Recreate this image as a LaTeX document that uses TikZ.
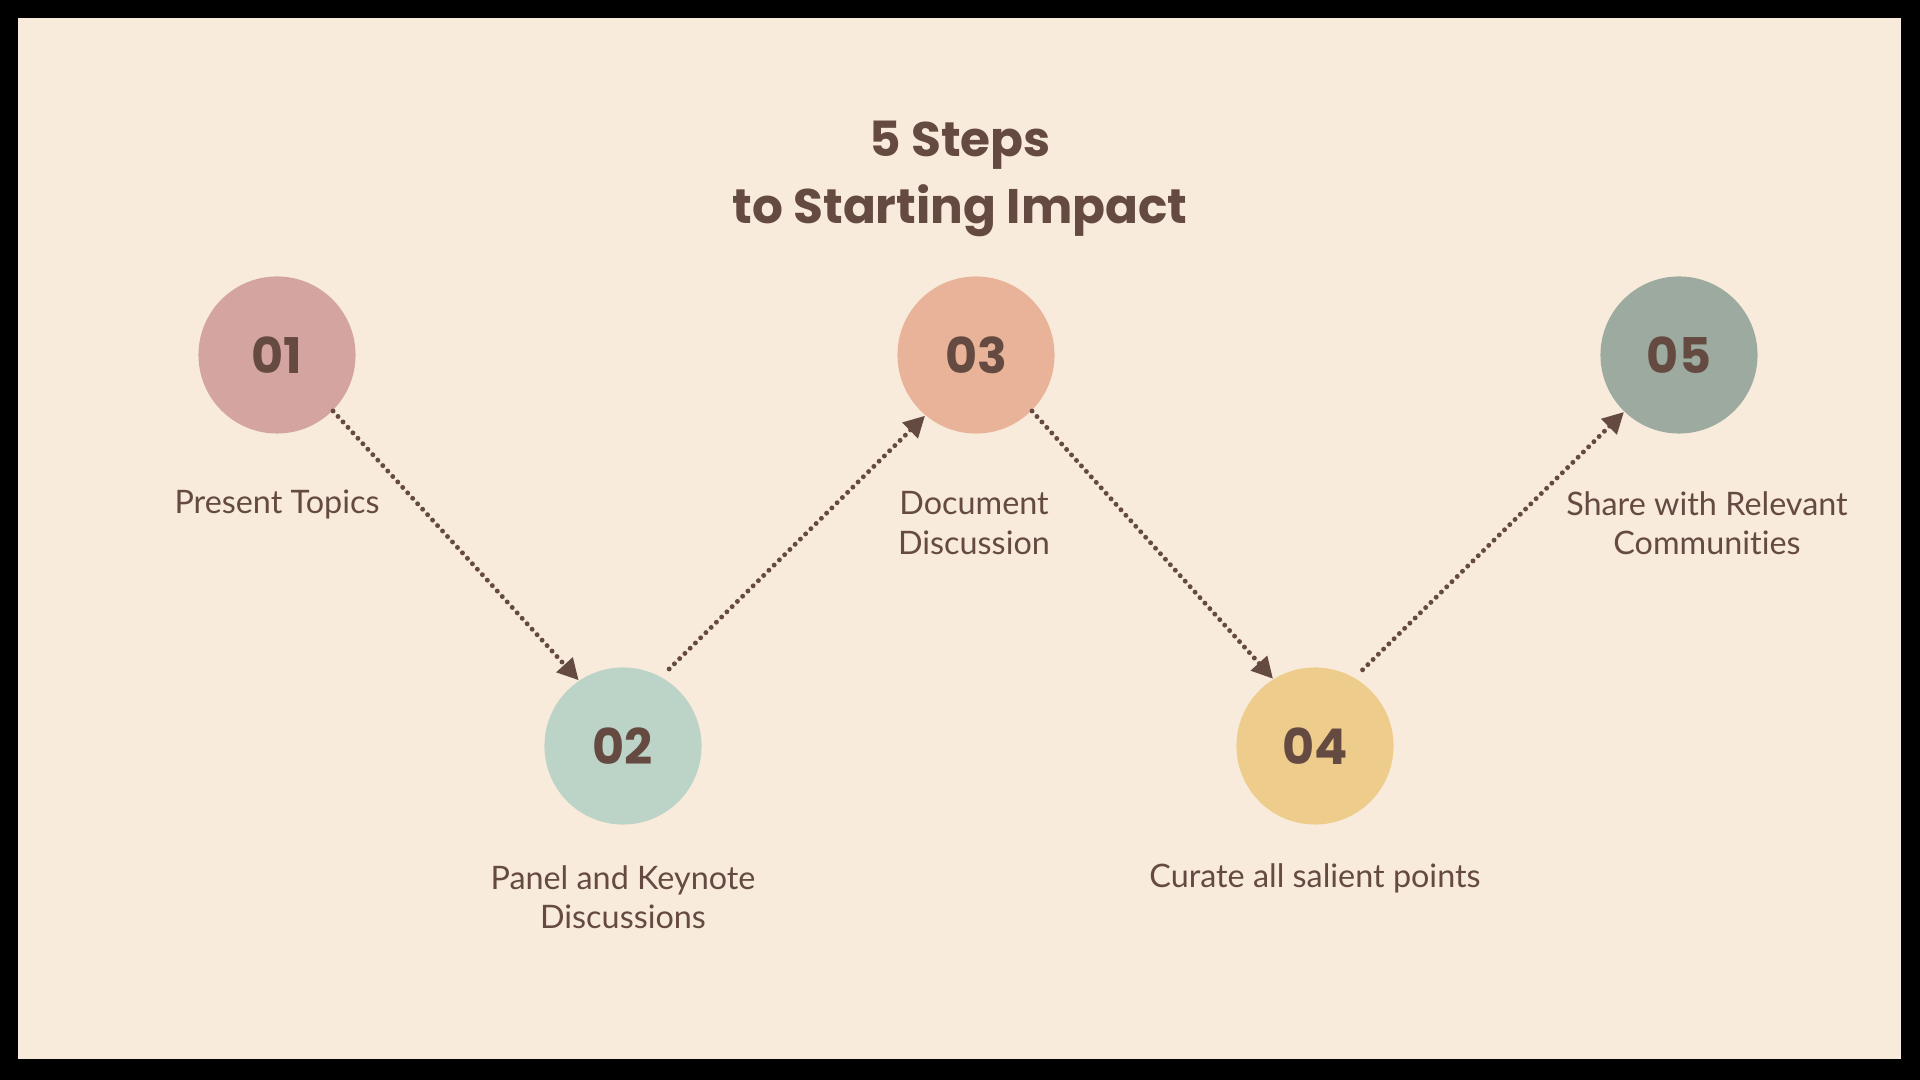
\documentclass[tikz,border=0pt]{standalone}
\usepackage{fontspec}
\setmainfont{Lato}[Ligatures={NoCommon}]
\newfontfamily\headfont{Poppins}
\usetikzlibrary{arrows.meta}
\definecolor{bgcream}{HTML}{F8EBDC}
\definecolor{inkbrown}{HTML}{654A41}
\definecolor{cone}{HTML}{D4A5A0}
\definecolor{ctwo}{HTML}{BCD3C7}
\definecolor{cthree}{HTML}{E8B398}
\definecolor{cfour}{HTML}{EDCC8C}
\definecolor{cfive}{HTML}{9CAA9F}
\tikzset{
  stepcircle/.style={circle, minimum size=1.57cm, inner sep=0pt, text=inkbrown,
    font=\headfont\bfseries\fontsize{14pt}{16pt}\selectfont},
  steplabel/.style={text=inkbrown, align=center, inner sep=0pt,
    font=\fontsize{9.2pt}{11.2pt}\selectfont},
  titletext/.style={text=inkbrown, align=center, inner sep=0pt,
    font=\headfont\bfseries\fontsize{13.8pt}{19pt}\selectfont},
  conn/.style={draw=inkbrown, line width=1.4pt, line cap=round,
    dash pattern=on 0pt off 2.1pt,
    -{Triangle[length=6pt,width=6pt]}}
}
\begin{document}
\begin{tikzpicture}[x=0.01cm,y=-0.01cm]
\fill[black] (0,0) rectangle (1920,1080);
\fill[bgcream] (18,18) rectangle (1901,1059);
\useasboundingbox (0,0) rectangle (1920,1080);

\node[titletext] (title) at (960,179) {5 Steps\\to Starting Impact};

\node[stepcircle, fill=cone]   (n1) at (277,355) {01};
\node[stepcircle, fill=ctwo]   (n2) at (623,746) {02};
\node[stepcircle, fill=cthree] (n3) at (976,355) {03};
\node[stepcircle, fill=cfour]  (n4) at (1315,746) {04};
\node[stepcircle, fill=cfive]  (n5) at (1679,355) {05};

\node[steplabel] (l1) at (277,504) {Present Topics};
\node[steplabel] (l2) at (623,897) {Panel and Keynote\\Discussions};
\node[steplabel] (l3) at (974,523) {Document\\Discussion};
\node[steplabel] (l4) at (1315,878) {Curate all salient points};
\node[steplabel] (l5) at (1707,523) {Share with Relevant\\Communities};

\draw[conn] (n1.-45) -- (n2.124);
\draw[conn] ([shift={(59.5:3pt)}]n2.59.5) -- (n3.230);
\draw[conn] (n3.-45) -- (n4.122);
\draw[conn] ([shift={(58:3pt)}]n4.58) -- (n5.226);
\end{tikzpicture}
\end{document}
